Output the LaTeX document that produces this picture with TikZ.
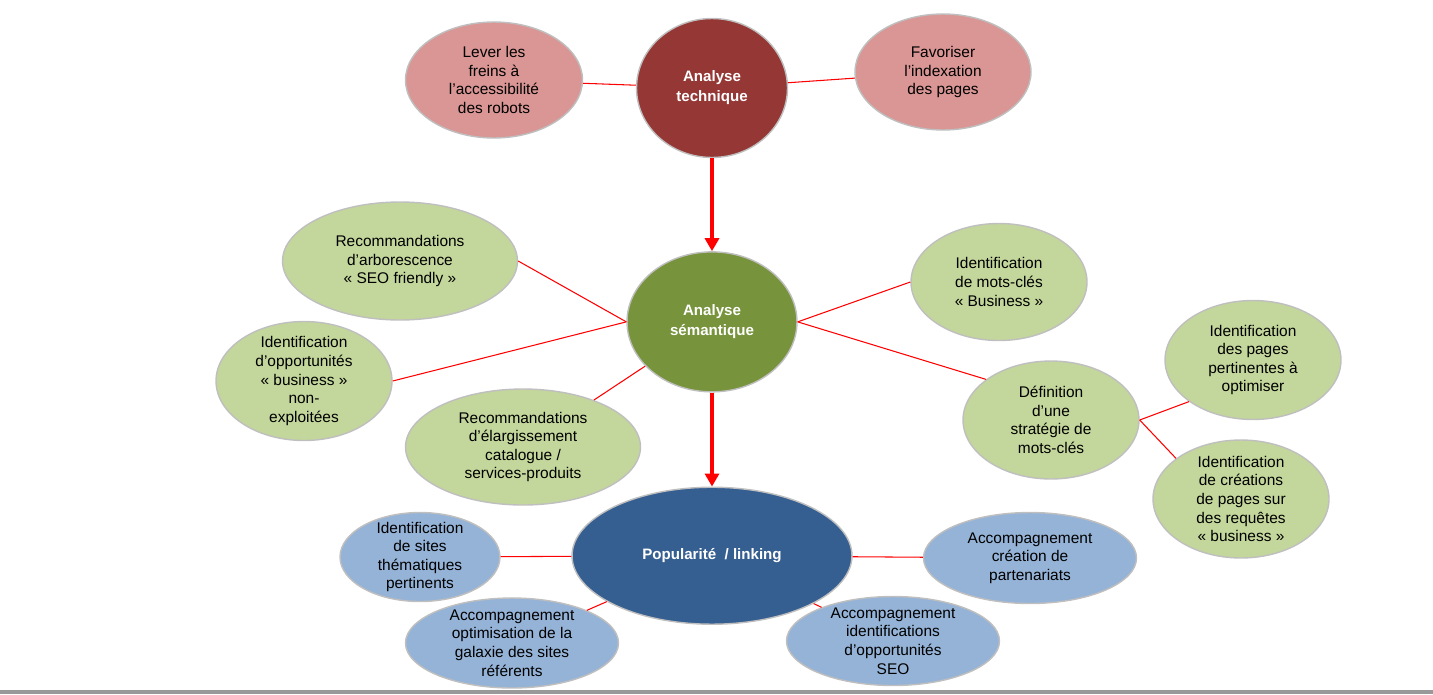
\documentclass[tikz,border=0pt]{standalone}
\usepackage{fontspec}
\setmainfont{Liberation Sans}
\usepackage{tikz}
\usetikzlibrary{arrows.meta, positioning, shapes.geometric}
\definecolor{techred}{RGB}{149,55,53}
\definecolor{techpink}{RGB}{217,150,148}
\definecolor{semgreen}{RGB}{119,147,60}
\definecolor{semlight}{RGB}{195,214,155}
\definecolor{popblue}{RGB}{54,95,145}
\definecolor{poplight}{RGB}{149,179,215}
\definecolor{rimgray}{RGB}{191,191,191}

\begin{document}
\begin{tikzpicture}[x=0.02cm, y=-0.02cm,
    bubble/.style={ellipse, draw=rimgray, line width=0.8pt, align=center, inner xsep=0pt, inner ysep=-4pt,
                   font=\fontsize{8.8}{10.6}\selectfont},
    hub/.style={bubble, text=white, font=\fontsize{8.6}{11.4}\selectfont\bfseries},
    link/.style={red, line width=0.6pt},
    flow/.style={-{Triangle[length=2.6mm, width=2.8mm]}, red, line width=2.2pt}]
    \useasboundingbox (0,0) rectangle (1433,694);
    \fill[black!40] (0,690) rectangle (1433,694);

    % Analyse technique and its two bubbles
    \node[hub, fill=techred, minimum width=3.02cm, minimum height=2.78cm] (tech) at (712,88) {Analyse\\technique};
    \node[bubble, fill=techpink, minimum width=3.54cm, minimum height=2.32cm] (freins) at (494,80) {Lever les\\freins à\\l’accessibilité\\des robots};
    \node[bubble, fill=techpink, minimum width=3.52cm, minimum height=2.32cm] (index) at (943,72) {Favoriser\\l’indexation\\des pages};

    % Analyse semantique placed below the first hub
    \node[hub, fill=semgreen, minimum width=3.4cm, minimum height=2.8cm, below=1.86cm of tech] (sem) {Analyse\\sémantique};
    \node[bubble, fill=semlight, minimum width=4.7cm, minimum height=2.36cm] (arbo) at (400,261) {Recommandations\\d’arborescence\\«~SEO friendly~»};
    \node[bubble, fill=semlight, minimum width=3.52cm, minimum height=2.38cm] (oppo) at (304,381) {Identification\\d’opportunités\\«~business~»\\non-\\exploitées};
    \node[bubble, fill=semlight, minimum width=4.7cm, minimum height=2.32cm] (elarg) at (523,447) {Recommandations\\d’élargissement\\catalogue /\\services-produits};
    \node[bubble, fill=semlight, minimum width=3.52cm, minimum height=2.34cm] (motscles) at (999,282) {Identification\\de mots-clés\\«~Business~»};
    \node[bubble, fill=semlight, minimum width=3.52cm, minimum height=2.36cm] (strat) at (1051,420) {Définition\\d’une\\stratégie de\\mots-clés};
    \node[bubble, fill=semlight, minimum width=3.52cm, minimum height=2.38cm] (pages) at (1253,360) {Identification\\des pages\\pertinentes à\\optimiser};
    \node[bubble, fill=semlight, minimum width=3.52cm, minimum height=2.36cm] (creations) at (1241,499) {Identification\\de créations\\de pages sur\\des requêtes\\«~business~»};

    % Popularite / linking
    \node[hub, fill=popblue, minimum width=5.6cm, minimum height=2.74cm, below=1.88cm of sem] (pop) {Popularité~ / linking};
    \node[bubble, fill=poplight, minimum width=3.2cm, minimum height=1.78cm] (sites) at (420,557) {Identification\\de sites\\thématiques\\pertinents};
    \node[bubble, fill=poplight, minimum width=4.26cm, minimum height=1.8cm] (galaxie) at (512,643) {Accompagnement\\optimisation de la\\galaxie des sites\\référents};
    \node[bubble, fill=poplight, minimum width=4.26cm, minimum height=1.82cm] (partenariats) at (1030,558) {Accompagnement\\création de\\partenariats};
    \node[bubble, fill=poplight, minimum width=4.26cm, minimum height=1.78cm] (identif) at (893,641) {Accompagnement\\identifications\\d’opportunités\\SEO};

    % Links
    \draw[link] (freins) -- (tech);
    \draw[link] (tech) -- (index);
    \draw[link] (arbo.east) -- (sem.west);
    \draw[link] (oppo.east) -- (sem.west);
    \draw[link] (elarg) -- (sem);
    \draw[link] (sem.east) -- (motscles.west);
    \draw[link] (sem.east) -- (strat.148);
    \draw[link] (strat.east) -- (pages.213);
    \draw[link] (strat.east) -- (creations.148);
    \draw[link] (sites) -- (pop);
    \draw[link] (galaxie) -- (pop);
    \draw[link] (pop) -- (partenariats);
    \draw[link] (pop) -- (identif);

    % Main flow
    \draw[flow] (tech) -- (sem);
    \draw[flow] (sem) -- (pop);
\end{tikzpicture}
\end{document}
